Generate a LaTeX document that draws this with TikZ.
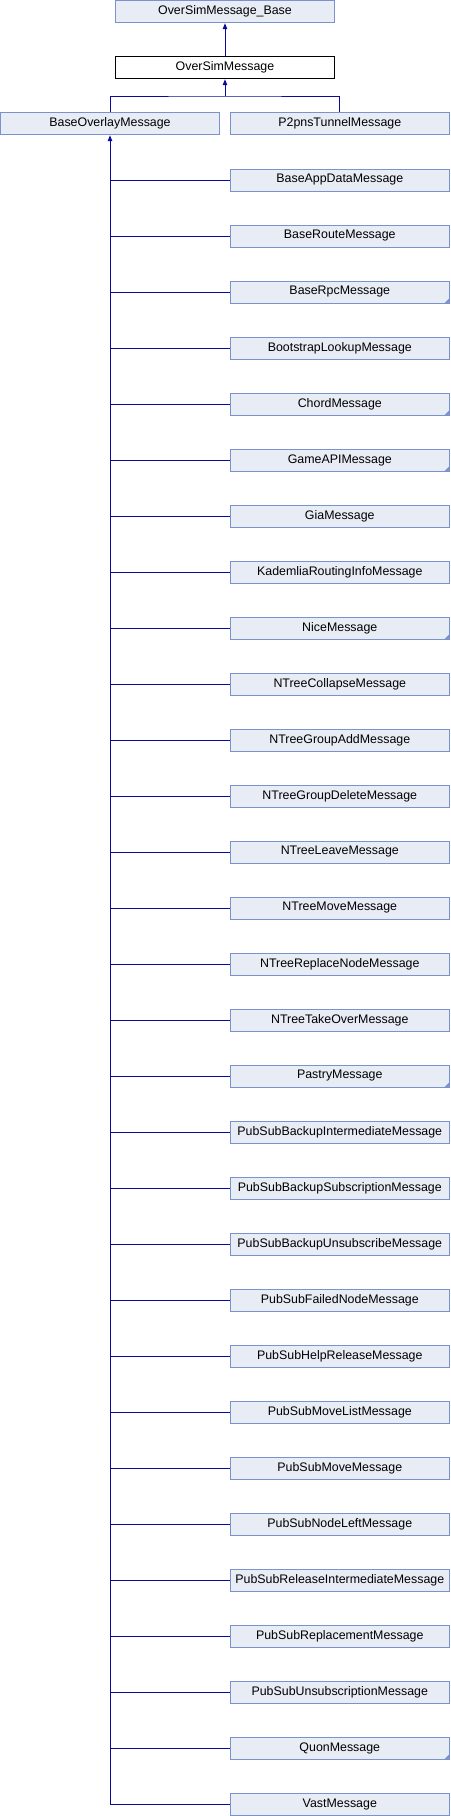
\documentclass[tikz,border=0pt]{standalone}
\usepackage{fontspec}
\setmainfont{Liberation Sans}
\usetikzlibrary{arrows.meta}
\definecolor{boxfill}{HTML}{E8ECF5}
\definecolor{boxline}{HTML}{7A93CC}
\definecolor{edgecol}{HTML}{0A0A9C}
\tikzset{
  cls/.style={draw=boxline, fill=boxfill, line width=1pt, minimum width=218.5pt, minimum height=22pt, inner sep=0pt, font=\fontsize{12.4}{14}\selectfont},
  cur/.style={cls, draw=black, fill=white},
  edge/.style={draw=edgecol, line width=1pt},
  inh/.style={edge, {Triangle[width=4.5pt,length=6pt]}-},
  foldmark/.style={fill=boxline}
}
\begin{document}
\begin{tikzpicture}[x=1pt,y=-1pt]
\useasboundingbox (0,0) rectangle (450,1816);
\node[cls] (base) at (225,11.7) {OverSimMessage\_Base};
\node[cur] (os) at (225,67.7) {OverSimMessage};
\node[cls] (bo) at (110,123.7) {BaseOverlayMessage};
\node[cls] (p2) at (339.8,123.7) {P2pnsTunnelMessage};
\coordinate (j) at (225,96);
\draw[inh] (base.south) -- (os.north);
\draw[inh] (os.south) -- (j);
\draw[edge] (bo.north) |- (j) -| (p2.north);
\foreach \n [count=\i from 0] in {BaseAppDataMessage,BaseRouteMessage,BaseRpcMessage,BootstrapLookupMessage,ChordMessage,GameAPIMessage,GiaMessage,KademliaRoutingInfoMessage,NiceMessage,NTreeCollapseMessage,NTreeGroupAddMessage,NTreeGroupDeleteMessage,NTreeLeaveMessage,NTreeMoveMessage,NTreeReplaceNodeMessage,NTreeTakeOverMessage,PastryMessage,PubSubBackupIntermediateMessage,PubSubBackupSubscriptionMessage,PubSubBackupUnsubscribeMessage,PubSubFailedNodeMessage,PubSubHelpReleaseMessage,PubSubMoveListMessage,PubSubMoveMessage,PubSubNodeLeftMessage,PubSubReleaseIntermediateMessage,PubSubReplacementMessage,PubSubUnsubscriptionMessage,QuonMessage,VastMessage} {
  \node[cls] (c\i) at (339.8,180+56*\i) {\n};
  \draw[edge] (bo.south |- c\i.west) -- (c\i.west);
}
\draw[inh] (bo.south) -- (bo.south |- c29.west);
\foreach \i in {2,4,5,8,16,28} {
  \fill[foldmark] ([shift={(-0.5,-0.5)}]c\i.south east) -- ++(-4.5,0) -- ++(4.5,-4.5) -- cycle;
}
\end{tikzpicture}
\end{document}
